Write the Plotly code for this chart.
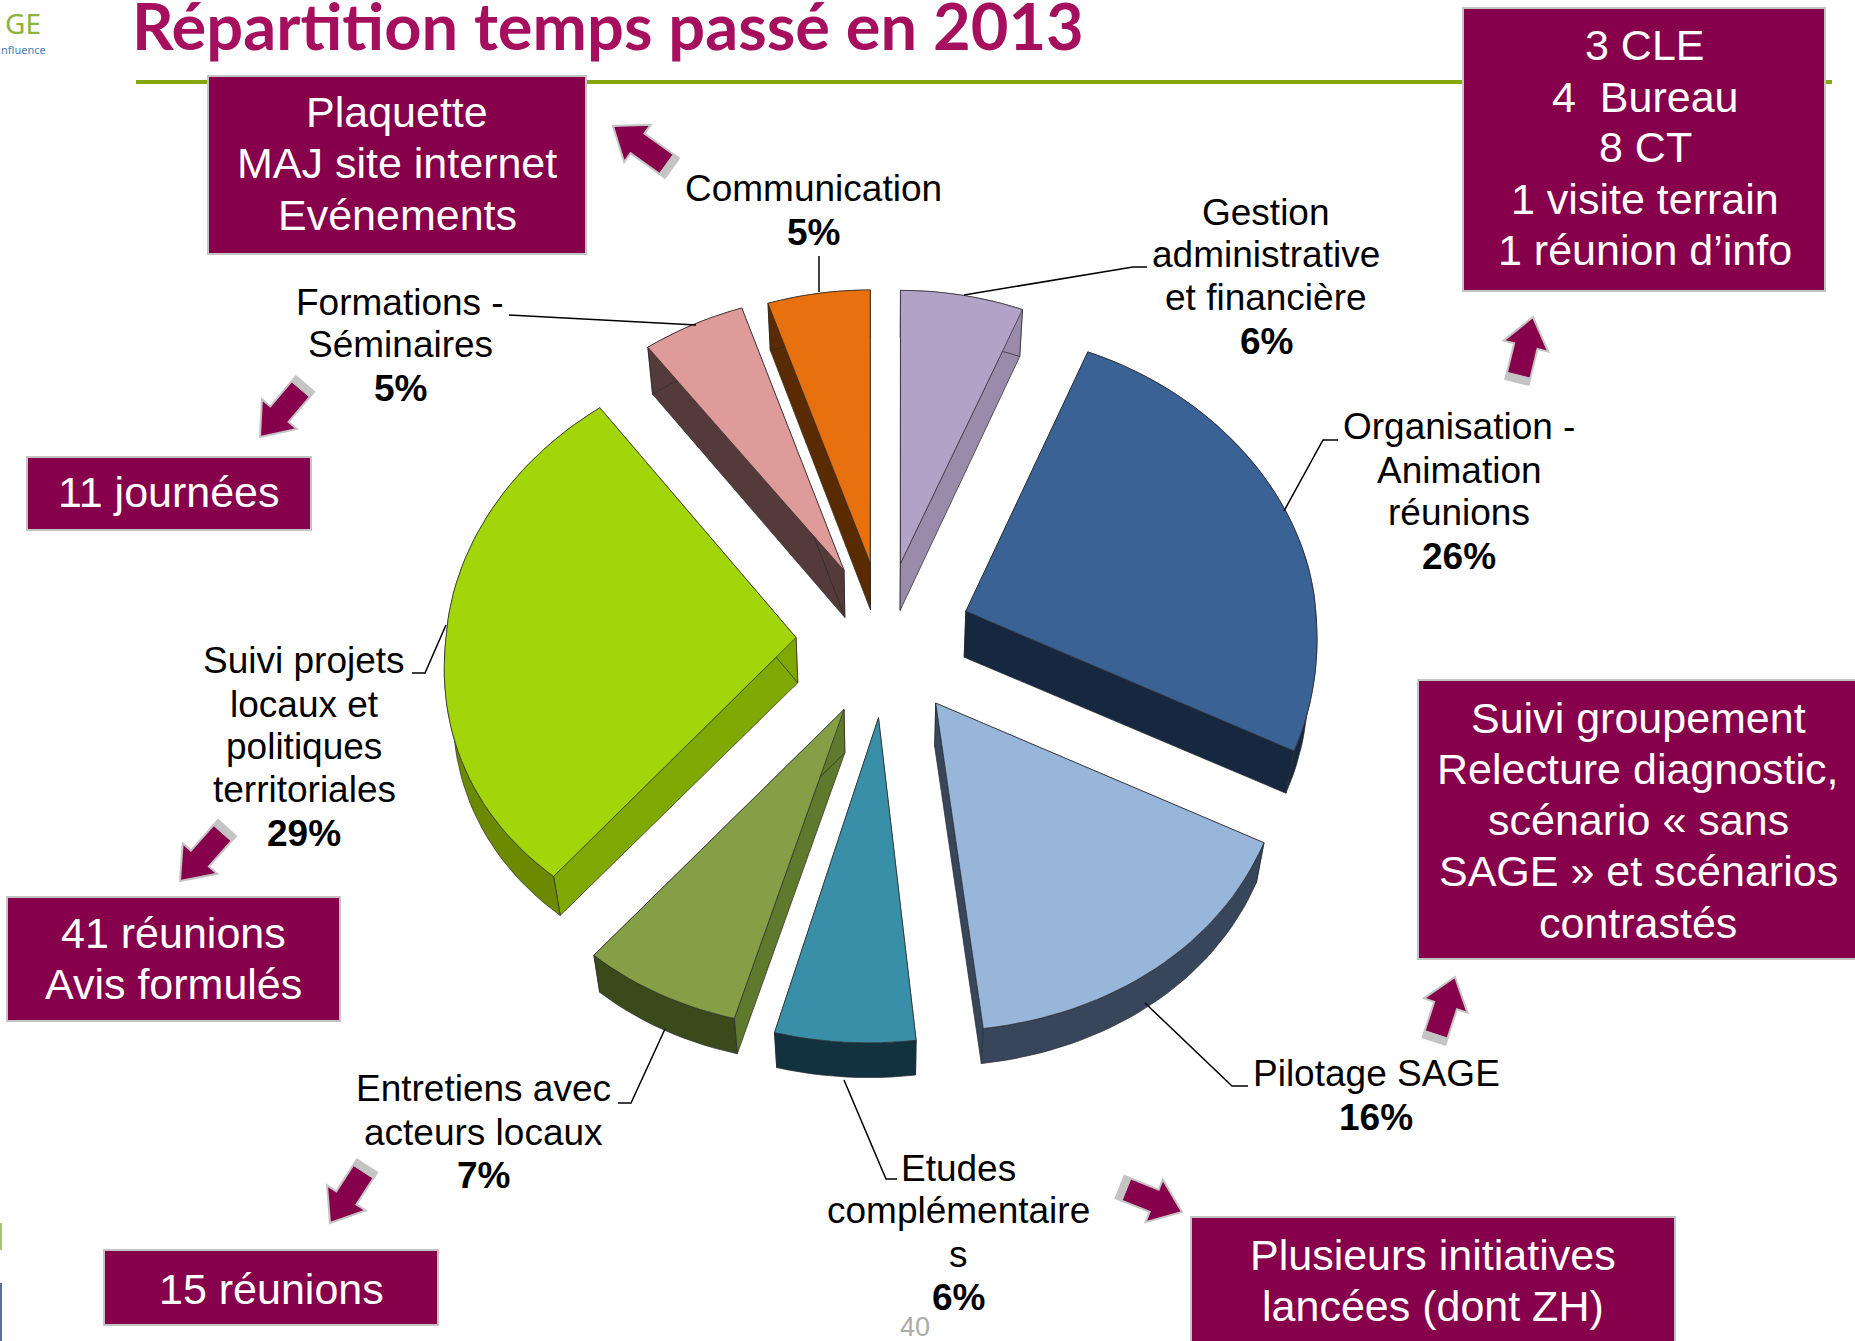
import math
import plotly.graph_objects as go

# ---- data ----
categories = ["Gestion administrative et financière", "Organisation - Animation réunions",
              "Pilotage SAGE", "Etudes complémentaires", "Entretiens avec acteurs locaux",
              "Suivi projets locaux et politiques territoriales", "Formations - Séminaires",
              "Communication"]
values = [6, 26, 16, 6, 7, 29, 5, 5]
label_lines = [["Gestion", "administrative", "et financière"],
               ["Organisation -", "Animation", "réunions"],
               ["Pilotage SAGE"],
               ["Etudes", "complémentaire", "s"],
               ["Entretiens avec", "acteurs locaux"],
               ["Suivi projets", "locaux et", "politiques", "territoriales"],
               ["Formations -", "Séminaires"],
               ["Communication"]]
box_lines = [["Plaquette", "MAJ site internet", "Evénements"],
             ["3 CLE", "4  Bureau", "8 CT", "1 visite terrain", "1 réunion d’info"],
             ["11 journées"],
             ["41 réunions", "Avis formulés"],
             ["15 réunions"],
             ["Plusieurs initiatives", "lancées (dont ZH)"],
             ["Suivi groupement", "Relecture diagnostic,", "scénario « sans", "SAGE » et scénarios", "contrastés"]]
title_text = "Répartition temps passé en 2013"
page_number = "40"

# ---- styles and layout ----
top_colors = ["#B3A2C7", "#3A6295", "#98B5DA", "#3A8FA8", "#849F46", "#A2D60A", "#DF9A9A", "#E8700F"]
radial_colors = ["#9A8BAB", "#15283F", "#37465A", "#123240", "#5F7A2C", "#7FA800", "#553A3A", "#5A2B00"]
arc_colors = ["#9A8BAB", "#15283F", "#37465A", "#123240", "#3B4A1B", "#6B8A00", "#553A3A", "#5A2B00"]
persp_skew = [0, 0, 0, -10, -16, -6, 0, 0]
persp_ry = [0, 0, 0, -3, -9, -18, 0, 0]
persp_up = [0, 6, 0, 0, 0, 11, 3, 0]
CX, CY, EX, EY = 884, 640, 88, 78
BOX = "#87004B"
FONT = "Liberation Sans"

label_pos = [(1266, [212, 254, 297, 341]), (1459, [426, 470, 512, 556]), (1376, [1073, 1117]),
             (958, [1168, 1210, 1254, 1297]), (483, [1088, 1132, 1175]),
             (304, [660, 704, 746, 789, 833]), (400, [302, 344, 388]), (813, [188, 232])]
box_rects = [(208, 586, 76, 254), (1463, 1825, 8, 291), (27, 311, 457, 530), (7, 340, 897, 1021),
             (104, 438, 1250, 1325), (1191, 1675, 1217, 1345), (1418, 1860, 680, 959)]
box_text = [(397, [112, 163, 215]), (1645, [45, 97, 147, 199, 250]), (169, [492]), (173, [933, 984]),
            (271, [1289]), (1433, [1255, 1306]), (1638, [718, 769, 820, 871, 923])]
leaders = [[(964, 295), (1133, 267), (1147, 267)], [(1284, 511), (1323, 440), (1338, 440)],
           [(509, 315), (696, 325)], [(819, 256), (819, 292)],
           [(446, 625), (425, 673), (412, 673)], [(665, 1029), (631, 1103), (618, 1103)],
           [(844, 1080), (886, 1179), (897, 1179)], [(1145, 1003), (1232, 1086), (1248, 1086)]]
arrows = [((613, 126), (672, 168)), ((1533, 317), (1517, 382)), ((260, 437), (305, 384)),
          ((180, 881), (227, 828)), ((330, 1223), (367, 1166)), ((1182, 1212), (1120, 1187)),
          ((1455, 977), (1434, 1041))]


def point(i, ax, ay, a):
    s, c = math.sin(a), math.cos(a)
    rx = 350 - (20 * c if c >= 0 else 30 * c)
    ry = 273 + persp_up[i] if c >= 0 else 328 + persp_ry[i]
    skew = 0 if c >= 0 else persp_skew[i] * abs(c)
    return ax + rx * s + skew, ay - ry * c


def lower(p):
    x, y = p
    depth = 47 if y < 570 else max(30, 47 - (y - 570) * 0.026)
    return x - 0.02 * (x - CX), y + depth


def poly(pts, fill, name=None):
    xs = [p[0] for p in pts] + [pts[0][0]]
    ys = [p[1] for p in pts] + [pts[0][1]]
    return go.Scatter(x=xs, y=ys, mode="lines", fill="toself", fillcolor=fill,
                      line=dict(color="#2A2A2A", width=0.7), showlegend=False,
                      hoverinfo="text" if name else "skip", text=name, name=name or "")


total = sum(values)
slices = []
acc = 0
for i, v in enumerate(values):
    a0 = acc / total * 2 * math.pi
    acc += v
    a1 = acc / total * 2 * math.pi
    mid = (a0 + a1) / 2
    ax, ay = CX + EX * math.sin(mid), CY - EY * math.cos(mid)
    n = max(6, int(v * 2))
    arc = [point(i, ax, ay, a0 + (a1 - a0) * k / n) for k in range(n + 1)]
    slices.append((ay, i, (ax, ay), arc))

traces = []
for ay, i, apex, arc in sorted(slices, key=lambda t: t[0]):
    for edge in (arc[0], arc[-1]):
        traces.append(poly([apex, edge, lower(edge), lower(apex)], radial_colors[i]))
    traces.append(poly(arc + [lower(p) for p in reversed(arc)], arc_colors[i]))
    traces.append(poly([apex] + arc, top_colors[i], f"{categories[i]}: {values[i]}%"))

fig = go.Figure(traces)

shapes = [dict(type="line", x0=136, x1=1832, y0=82, y1=82, line=dict(color="#86A80C", width=4), layer="below"),
          dict(type="rect", x0=0, x1=2, y0=1223, y1=1250, fillcolor="#A9C46C", line_width=0, layer="below"),
          dict(type="rect", x0=0, x1=2, y0=1283, y1=1341, fillcolor="#5A6F98", line_width=0, layer="below")]
for x0, x1, y0, y1 in box_rects:
    shapes.append(dict(type="rect", x0=x0, x1=x1, y0=y0, y1=y1, fillcolor=BOX,
                       line=dict(color="#C4C4C4", width=2)))
for path in leaders:
    d = "M" + " L".join(f"{x},{y}" for x, y in path)
    shapes.append(dict(type="path", path=d, line=dict(color="#000000", width=1.5)))
for tip, tail in arrows:
    dx, dy = tail[0] - tip[0], tail[1] - tip[1]
    L = math.hypot(dx, dy)
    ux, uy = dx / L, dy / L
    nx, ny = -uy, ux
    P = lambda a, b: (tip[0] + ux * a + nx * b, tip[1] + uy * a + ny * b)
    hl, hw, sw = 30, 23, 12
    pts = [P(0, 0), P(hl, hw), P(hl, sw), P(L, sw), P(L, -sw), P(hl, -sw), P(hl, -hw)]
    d = "M" + " L".join(f"{x:.1f},{y:.1f}" for x, y in pts) + " Z"
    shapes.append(dict(type="path", path=d, fillcolor=BOX, line=dict(color="#C4C4C4", width=2)))
    band = [P(L - 7, sw), P(L, sw), P(L, -sw), P(L - 7, -sw)]
    d = "M" + " L".join(f"{x:.1f},{y:.1f}" for x, y in band) + " Z"
    shapes.append(dict(type="path", path=d, fillcolor="#C4C4C4", line=dict(color="#C4C4C4", width=1)))

ann = []


def text(x, y, t, size, color="#000000", bold=False, family=FONT, xanchor="center"):
    ann.append(dict(x=x, y=y, text=f"<b>{t}</b>" if bold else t, showarrow=False, xanchor=xanchor,
                    yanchor="middle", font=dict(family=family, size=size, color=color), align="center"))


for i, lines in enumerate(label_lines):
    x, ys = label_pos[i]
    for line, y in zip(lines, ys):
        text(x, y, line, 37, "#000000")
    text(x, ys[-1], f"{values[i]}%", 37, "#000000", bold=True)
for lines, (x, ys) in zip(box_lines, box_text):
    for line, y in zip(lines, ys):
        text(x, y, line, 43, "#FFFFFF")
text(130, 25, title_text, 65, "#A50F5D", bold=True, family="Lato", xanchor="left")
text(915, 1327, page_number, 27, "#ABABAB")
text(23, 23, "GE", 28, "#8DB33A", family="Noto Sans")
text(23, 49, "nfluence", 11, "#3F7FB5", family="Noto Sans")

fig.update_layout(width=1855, height=1341, margin=dict(l=0, r=0, t=0, b=0),
                  paper_bgcolor="white", plot_bgcolor="white", showlegend=False,
                  xaxis=dict(range=[0, 1855], visible=False, fixedrange=True),
                  yaxis=dict(range=[1341, 0], visible=False, fixedrange=True),
                  shapes=shapes, annotations=ann)
fig.write_html("out.html", post_script="document.body.style.margin='0';document.body.style.overflow='hidden';",
               config=dict(displayModeBar=False))
